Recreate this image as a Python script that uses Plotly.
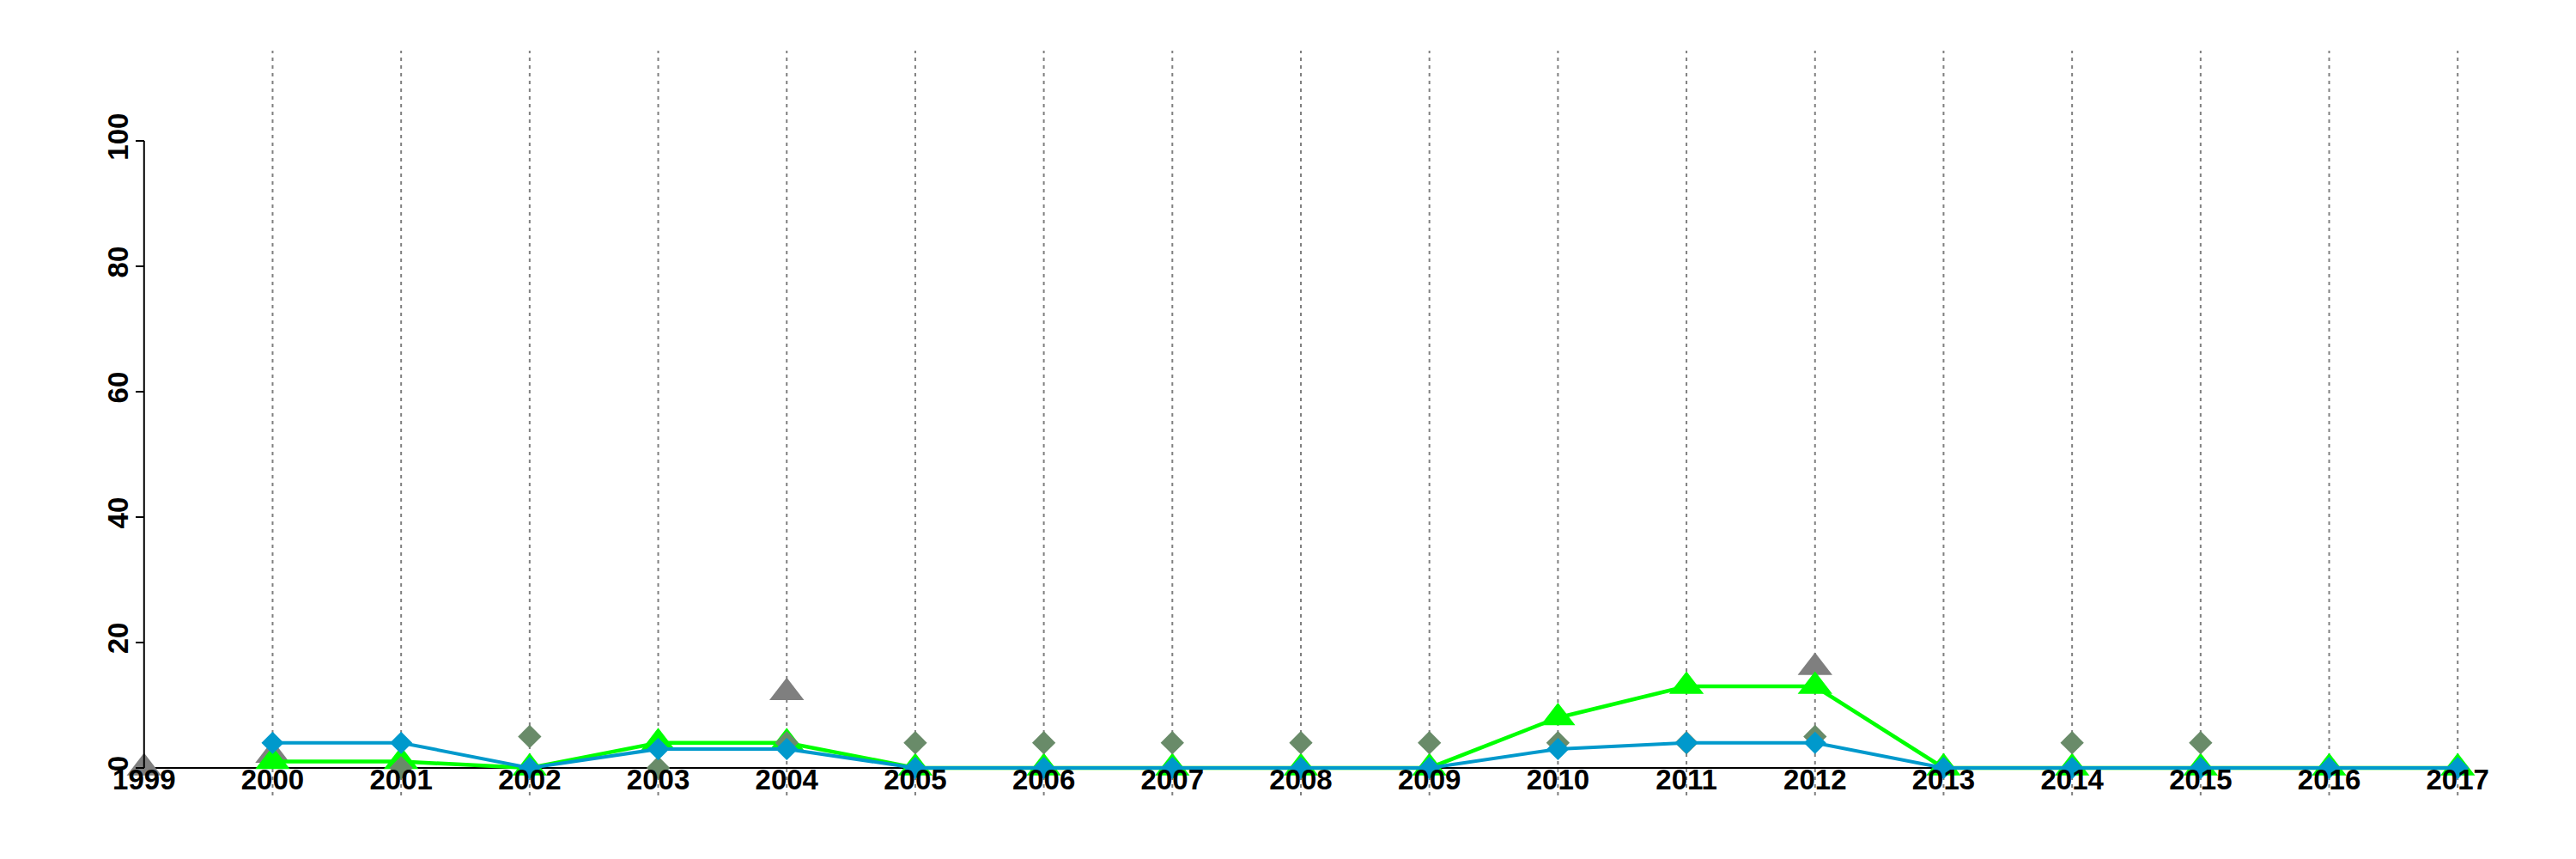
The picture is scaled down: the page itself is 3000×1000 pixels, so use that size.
import plotly.graph_objects as go

years = list(range(1999, 2018))
grid_years = list(range(2000, 2018))
y_ticks = [0, 20, 40, 60, 80, 100]

grey_tri = [0, 2, None, None, None, 12, None, None, None, None, None, None, None, 16, None, None, None, None, None]
green_tri = [None, 1, 1, 0, 4, 4, 0, 0, 0, 0, 0, 8, 13, 13, 0, 0, 0, 0, 0]
sage_dia = [None, None, 0, 5, 0, 4, 4, 4, 4, 4, 4, 4, 4, 5, None, 4, 4, None, None]
blue_dia = [None, 4, 4, 0, 3, 3, 0, 0, 0, 0, 0, 3, 4, 4, 0, 0, 0, 0, 0]

x_lo, x_hi = 1999, 2017
y_lo, y_hi = 0, 110
xpad = (x_hi - x_lo) * 0.04
ypad = (y_hi - y_lo) * 0.04
xr = [x_lo - xpad, x_hi + xpad]
yr = [y_lo - ypad, y_hi + ypad]

fig = go.Figure()
fig.add_trace(go.Scatter(x=years, y=grey_tri, mode="markers",
                         marker=dict(symbol="triangle-up", size=35, color="#7F7F7F"),
                         cliponaxis=False, showlegend=False))
fig.add_trace(go.Scatter(x=years, y=green_tri, mode="lines+markers",
                         line=dict(color="#00FF00", width=4.5),
                         marker=dict(symbol="triangle-up", size=35, color="#00FF00"),
                         cliponaxis=False, showlegend=False))
fig.add_trace(go.Scatter(x=years, y=sage_dia, mode="markers",
                         marker=dict(symbol="diamond", size=21, color="#698B69"),
                         cliponaxis=False, showlegend=False))
fig.add_trace(go.Scatter(x=years, y=blue_dia, mode="lines+markers",
                         line=dict(color="#0099CC", width=4),
                         marker=dict(symbol="diamond", size=20, color="#0099CC"),
                         cliponaxis=False, showlegend=False))

shapes = []
for yr_ in grid_years:
    shapes.append(dict(type="line", xref="x", yref="y domain", x0=yr_, x1=yr_, y0=0, y1=1,
                       line=dict(color="#808080", width=2, dash="4px,5px"), layer="below"))
# axis lines drawn R-style between first and last tick
shapes.append(dict(type="line", xref="x", yref="y", x0=x_lo, x1=x_lo, y0=min(y_ticks), y1=max(y_ticks),
                   line=dict(color="black", width=2), layer="above"))
shapes.append(dict(type="line", xref="x", yref="y", x0=years[0], x1=years[-1], y0=0, y1=0,
                   line=dict(color="black", width=2), layer="below"))

font = dict(family="Liberation Sans, Arial, sans-serif", size=33, color="black", weight="bold")

fig.update_layout(
    width=3000, height=1000,
    margin=dict(l=52, r=38, t=51, b=82),
    paper_bgcolor="white", plot_bgcolor="white",
    shapes=shapes,
    xaxis=dict(range=xr, tickvals=years, ticktext=[str(v) for v in years],
               showgrid=False, zeroline=False, showline=False, ticks="",
               anchor="free", position=(0 - yr[0]) / (yr[1] - yr[0]),
               tickfont=font, ticklabelstandoff=-9, automargin=False),
    yaxis=dict(range=yr, tickvals=y_ticks, ticktext=[str(v) for v in y_ticks],
               showgrid=False, zeroline=False, showline=False,
               ticks="outside", ticklen=10, tickwidth=2, tickcolor="black",
               tickangle=-90, anchor="free", position=(x_lo - xr[0]) / (xr[1] - xr[0]),
               tickfont=font, ticklabelstandoff=-4, automargin=False),
)

fig.write_html("out.html")
